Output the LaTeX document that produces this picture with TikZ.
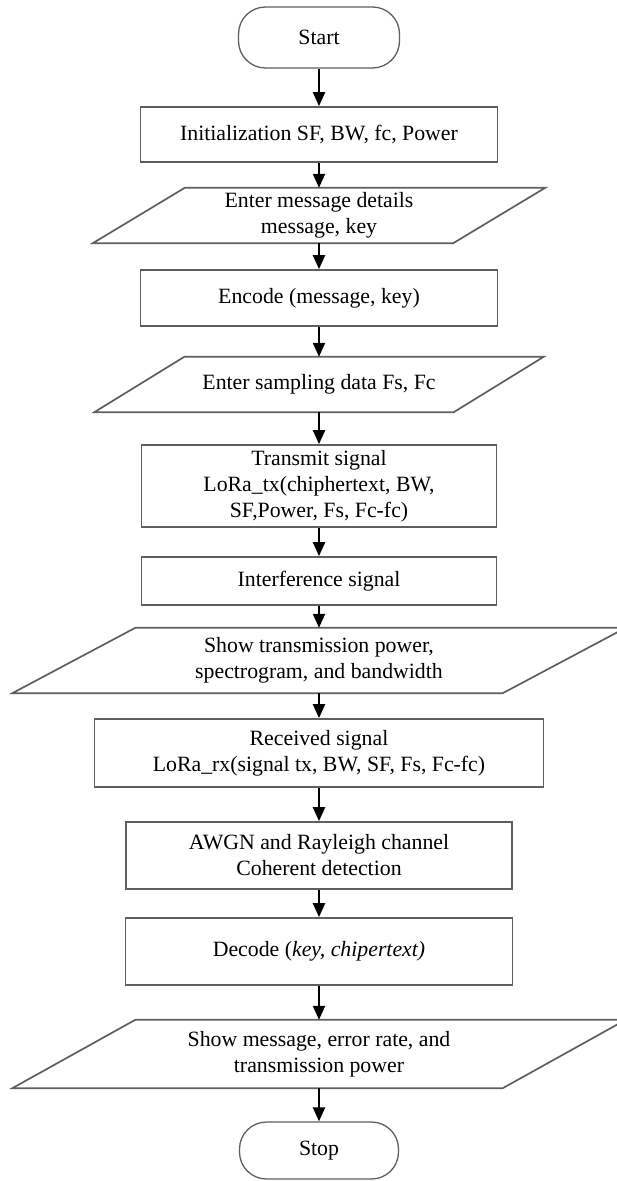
\documentclass[tikz,border=0pt]{standalone}
\usepackage{fontspec}
\setmainfont{Liberation Serif}
\usetikzlibrary{arrows.meta}
\definecolor{boxgray}{RGB}{95,95,95}

\begin{document}
\begin{tikzpicture}[x=1pt,y=-1pt,
  every node/.style={font=\fontsize{21.8}{26}\selectfont, align=center, inner sep=0pt},
  term/.style={draw=boxgray, line width=1.3pt, rectangle, rounded corners=27pt},
  proc/.style={draw=boxgray, line width=1.7pt, rectangle},
  io/.style={rectangle},
  iobox/.style={draw=boxgray, line width=1.7pt, line join=miter},
  flow/.style={-{Triangle[length=14pt,width=12pt]}, line width=2.2pt, black}]
  \path[use as bounding box, fill=white] (0.00, 0.00) rectangle (616.00, 1181.00);
  \node[term, minimum width=161, minimum height=61] (start) at (319.00, 37.50) {Start};
  \node[proc, minimum width=357, minimum height=55] (init) at (319.00, 134.50) {Initialization SF, BW, fc, Power};
  \node[io, minimum width=360, minimum height=55] (msg) at (319.00, 215.50) {Enter message details\\message, key};
  \node[proc, minimum width=357, minimum height=56] (enc) at (319.00, 298.00) {Encode (message, key)};
  \node[io, minimum width=359, minimum height=55] (samp) at (319.00, 384.50) {Enter sampling data Fs, Fc};
  \node[proc, minimum width=355, minimum height=82] (tx) at (319.00, 486.00) {Transmit signal\\LoRa\_tx(chiphertext, BW,\\SF,Power, Fs, Fc-fc)};
  \node[proc, minimum width=355, minimum height=48] (intf) at (319.00, 581.00) {Interference signal};
  \node[io, minimum width=490, minimum height=65] (show) at (319.00, 660.50) {Show transmission power,\\spectrogram, and bandwidth};
  \node[proc, minimum width=449, minimum height=68] (rx) at (319.00, 753.00) {Received signal\\LoRa\_rx(signal tx, BW, SF, Fs, Fc-fc)};
  \node[proc, minimum width=386, minimum height=67] (awgn) at (319.00, 855.50) {AWGN and Rayleigh channel\\Coherent detection};
  \node[proc, minimum width=387, minimum height=67] (dec) at (319.00, 951.50) {Decode (\textit{key, chipertext)}};
  \node[io, minimum width=490, minimum height=68] (res) at (319.00, 1054.00) {Show message, error rate, and\\transmission power};
  \node[term, minimum width=159, minimum height=57] (stop) at (319.00, 1150.50) {Stop};
  \draw[iobox] ([xshift=-46]msg.south west) -- ([xshift=-46]msg.south east) -- ([xshift=46]msg.north east) -- ([xshift=46]msg.north west) -- cycle;
  \draw[iobox] ([xshift=-45]samp.south west) -- ([xshift=-45]samp.south east) -- ([xshift=45]samp.north east) -- ([xshift=45]samp.north west) -- cycle;
  \draw[iobox] ([xshift=-61.5]show.south west) -- ([xshift=-61.5]show.south east) -- ([xshift=61.5]show.north east) -- ([xshift=61.5]show.north west) -- cycle;
  \draw[iobox] ([xshift=-61.5]res.south west) -- ([xshift=-61.5]res.south east) -- ([xshift=61.5]res.north east) -- ([xshift=61.5]res.north west) -- cycle;
  \draw[flow] (start) -- (init);
  \draw[flow] (init) -- (msg);
  \draw[flow] (msg) -- (enc);
  \draw[flow] (enc) -- (samp);
  \draw[flow] (samp) -- (tx);
  \draw[flow] (tx) -- (intf);
  \draw[flow] (intf) -- (show);
  \draw[flow] (show) -- (rx);
  \draw[flow] (rx) -- (awgn);
  \draw[flow] (awgn) -- (dec);
  \draw[flow] (dec) -- (res);
  \draw[flow] (res) -- (stop);
\end{tikzpicture}
\end{document}
